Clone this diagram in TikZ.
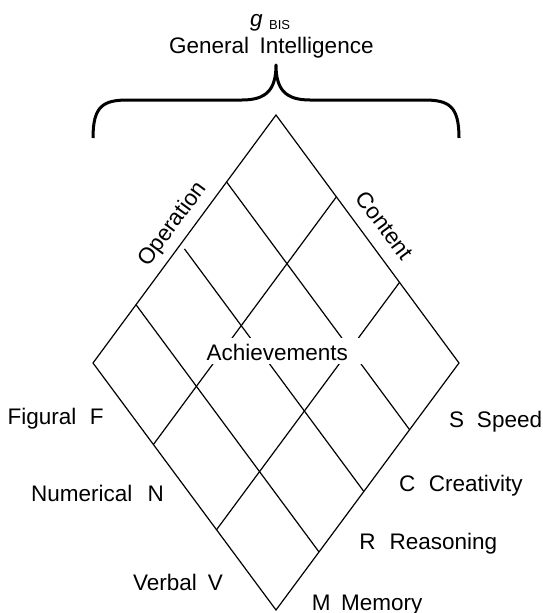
\documentclass[tikz,border=0pt]{standalone}
\usepackage{fontspec}
\setmainfont{Liberation Sans}
\usetikzlibrary{calc}
\begin{document}
\begin{tikzpicture}[x=1pt,y=-1pt,
  gridline/.style={line width=1.2pt},
  bracepath/.style={line width=3pt, line join=round},
  txt/.style={inner sep=0pt, font=\fontsize{22.5}{27}\selectfont},
  lbl/.style={txt, anchor=base west}]
\useasboundingbox (0,0) rectangle (543,613);

% corners of the diamond
\coordinate (T) at (276,115);
\coordinate (L) at (93,363);
\coordinate (R) at (459,363);
\coordinate (B) at (276,610);

% lines parallel to the upper right edge (four bands S, C, R, M)
\foreach \s [count=\i] in {0.27,0.52,0.765} {
  \coordinate (dr\i a) at ($(T)!\s!(L)$);
  \coordinate (dr\i b) at ($(R)!\s!(B)$);
}
% lines parallel to the upper left edge (three bands F, N, V)
\foreach \u [count=\i] in {0.33,0.675} {
  \coordinate (dl\i a) at ($(T)!\u!(R)$);
  \coordinate (dl\i b) at ($(L)!\u!(B)$);
}

\draw[gridline] (dr1a) -- (dr1b);
\draw[gridline] ($(dr2a)!0.02!(dr2b)$) -- (dr2b);
\draw[gridline] (dr3a) -- (dr3b);
\draw[gridline] (dl1a) -- (dl1b);
\draw[gridline] (dl2a) -- (dl2b);
\draw[gridline] (T) -- (R) -- (B) -- (L) -- cycle;

% central label on a white patch
\fill[white] (200,338) rectangle (366,364);
\node[txt, anchor=base] (achv) at (277.3,360) {Achievements};

% axis names along the upper edges
\node[txt, anchor=base, rotate=53.5] (oper) at (177.6,227.9) {Operation};
\node[txt, anchor=base, rotate=-53.5] (cont) at (378.4,230) {Content};

% content labels (left)
\node[lbl] (fig) at (7.5,424.3) {Figural\hspace{13.3pt}F};
\node[lbl] (num) at (31,501.7) {Numerical\hspace{15.2pt}N};
\node[lbl] (verb) at (133,590) {Verbal\hspace{10.9pt}V};

% operation labels (right)
\node[lbl] (spd) at (449,427.7) {S\hspace{12.8pt}Speed};
\node[lbl] (cre) at (399,491.7) {C\hspace{13.4pt}Creativity};
\node[lbl] (rea) at (359.2,549) {R\hspace{14pt}Reasoning};
\node[lbl] (mem) at (311.6,610) {M\hspace{10.6pt}Memory};

% general factor and brace
\node[inner sep=0pt, anchor=base west, font=\fontsize{22.5}{27}\selectfont\itshape] (g) at (250,26) {g};
\node[inner sep=0pt, anchor=base west, font=\fontsize{13}{15}\selectfont] (bis) at (269,29.5) {BIS};
\node[lbl] (gi) at (169,53.3) {General\hspace{10.5pt}Intelligence};

\draw[bracepath] (93,138) .. controls (93,106) and (103,100) .. (128,100)
  -- (242,100) .. controls (266,100) and (276,90) .. (276,65)
  .. controls (276,90) and (286,100) .. (310,100)
  -- (424,100) .. controls (449,100) and (459,106) .. (459,138);
\end{tikzpicture}
\end{document}
